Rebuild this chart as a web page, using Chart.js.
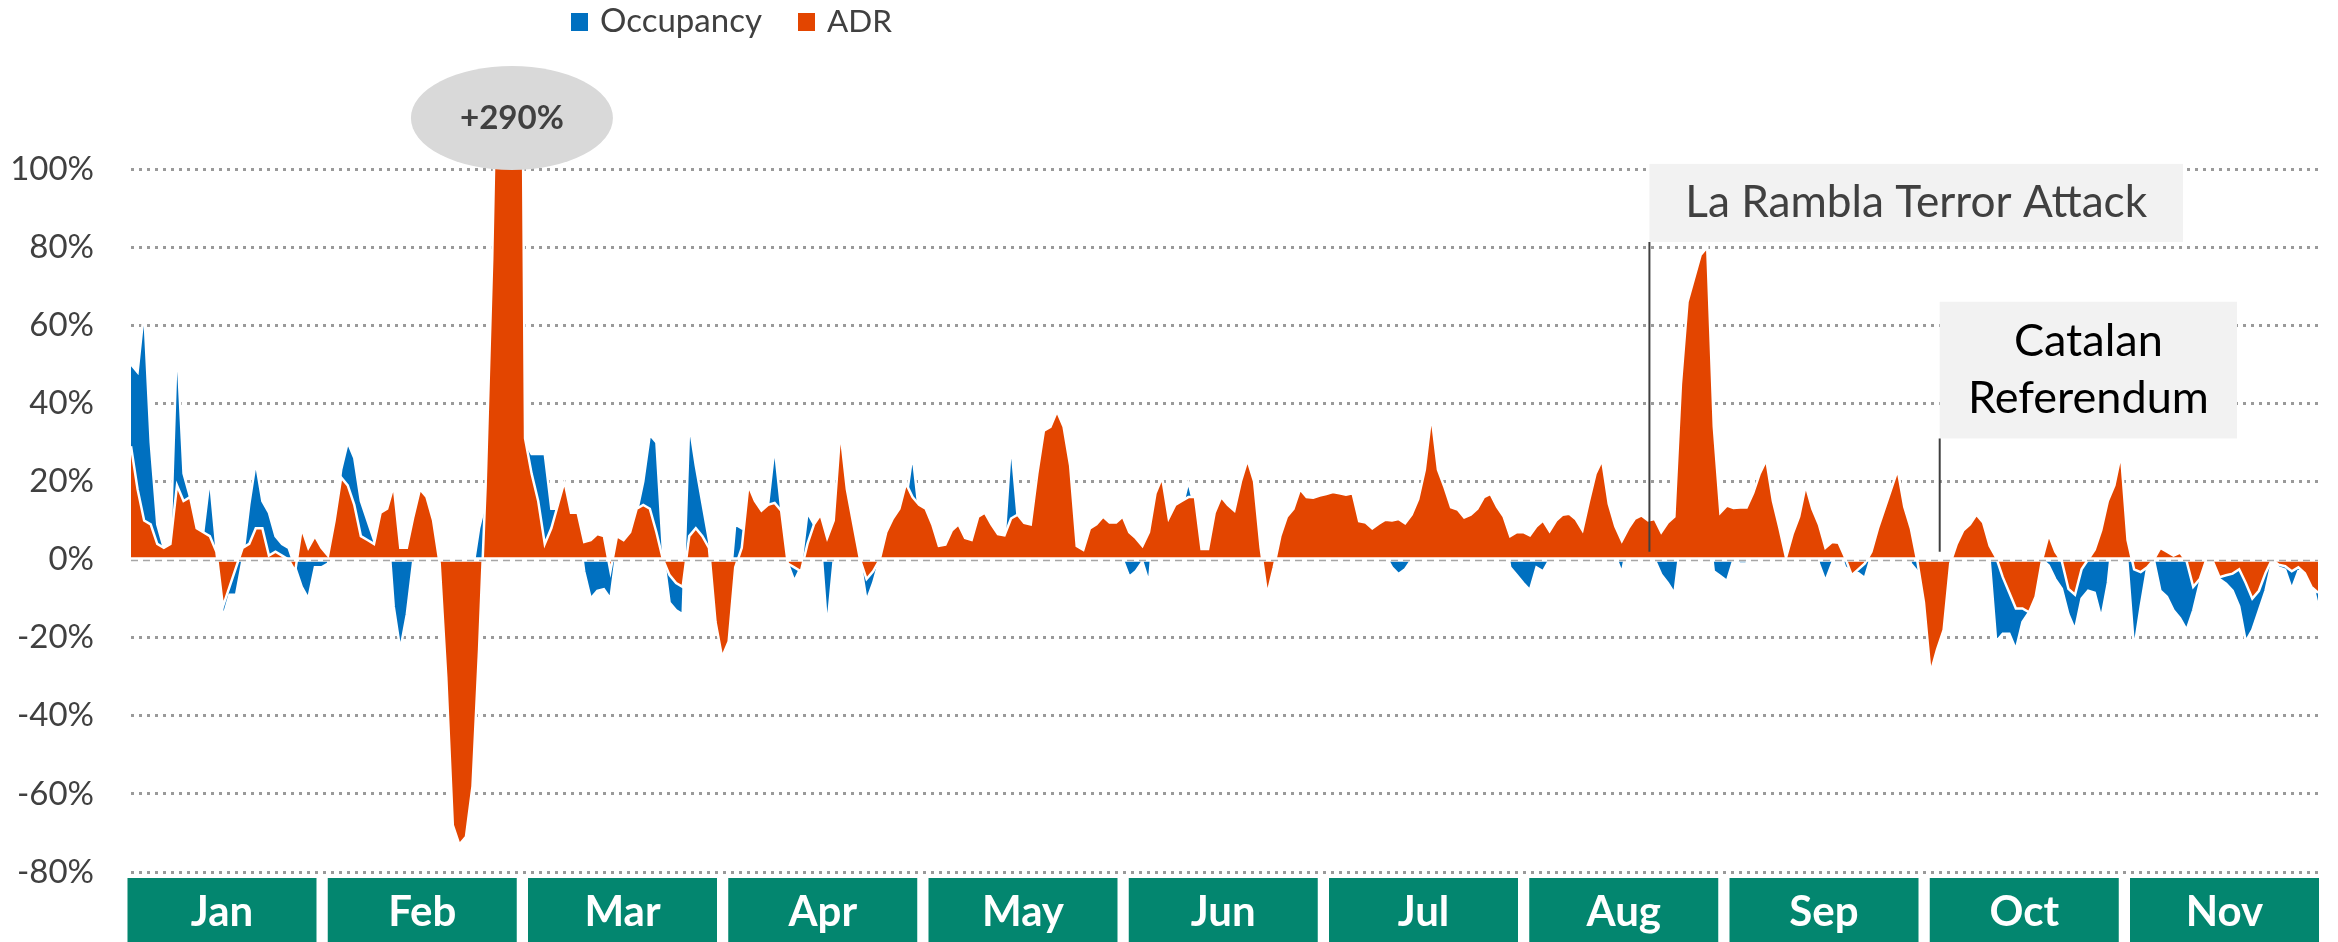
<!DOCTYPE html>
<html>
<head>
<meta charset="utf-8">
<script src="https://cdn.jsdelivr.net/npm/chart.js@4.4.1/dist/chart.umd.min.js"></script>
<style>
html,body{margin:0;padding:0;background:#fff;overflow:hidden}
canvas{display:block}
</style>
</head>
<body>
<canvas id="chart" width="2338" height="942"></canvas>
<script>
// ---- data (daily, Jan 1 .. Nov 30, % change year on year) ----
const months = ['Jan','Feb','Mar','Apr','May','Jun','Jul','Aug','Sep','Oct','Nov'];

const occupancy = [
  // Jan
  50,48,64,30,9,3,4,56,22,16,8,7,21,3,-15,-9,-9,0,14,25,15,12,6,4,3,-2,-7,-10,-2,-2,-1,
  // Feb
  10,23,30,26,15,10,5,10,11,-12,-23,-14,0,17,15,11,0,-3,-5,-6,-5,-3,8,15,25,30,30,28,
  // Mar
  25,30,27,27,27,13,13,18,10,10,-3,-10,-8,-7.6,-10,3,4,6,12,20,32,30,2,-11,-13,-14,35,24,14.5,5,-8,
  // Apr
  -10,-10,9,8,17,13,11,14,29,13,-1,-5.5,-2,12,9,5,-17.5,0,10,8,5,0,-10.6,-6,0,5,8,10,15,27,
  // May
  12,10,7,2,2,5,6,4,4,9,10,7,5,5,30,11,8,8,20,28,30,32,30,20,-1.5,1,6,7,9,8,8,
  // Jun
  0,-4.4,-3,-0.5,-6,14,18,9,12,13,20,13,2,2,10,13,12,10,17,22,19,5,-4,-1,5,9,11,15,14,14,
  // Jul
  15,15,15,15,15,15,8,8,7,8,1,-2,-3.7,-2.5,0,13,20,30,20,15,11,10,9,10,11,14,14,12,9,-2,-4,
  // Aug
  -6,-7.8,-2,-3,0,-0.5,9,10,-1.5,5,12,18,20,12,1,-3.4,5,9,-1,8,0,-3.8,-6,-8.7,5,10,12,15,12,-3,-4.2,
  // Sep
  -5.5,0,-1,-1,10,15,20,10,5,-0.5,4,8,15,10,-1,-5.5,-1,3,-2,-3,-3.5,-4.7,1,6,10,15,18,10,-1,-3,
  // Oct
  -8,-15,-15,-10,-1,3,6,7,10,8,0,-21,-19,-19,-23,-16,-13.5,-9,0,-1.5,-5,-7.5,-14,-18,-10,-8,-8.5,-15,-6,10,15,
  // Nov
  -1,-23,-12,-2,0,-8,-9.5,-13,-15,-18,-13,-6,0,-0.5,-5,-6.2,-8,-12,-21,-18,-13,-8,-0.5,-2,-2.6,-7.5,-3,-3,-5,-12
];

const adr = [
  // Jan
  29,18,10,9,4,3,4,19,15,16,8,7,6,2,-12,-7,-2,3,4,8,8,1,2,1,0,-3,8,3,6,3,1,
  // Feb
  10,21,19,14,6,5,4,12,13,19,3,3,11,18,16,10,-1,-30,-68,-73,-71,-58,-23,19,77,160,250,290,
  // Mar
  270,31,22,15,4,8,14,20,12,12,4.5,5,6.5,6,-3,6,5,7,13,14,13,7,0,-4,-6,-7,6,8,6,3,-16,
  // Apr
  -25,-21,-2,3,19,15,12.5,14,14.5,12.5,-1,-2,-3,4,9,11.5,5.5,10,33,18,9,0,-5,-3,0,7,10.5,13,19.5,16,
  // May
  14,13,9,3.5,3.8,7.5,9,5.5,5,11,12,9,6.5,6.2,10.5,11.5,9.4,9,22,33,34,38,34,24,3.5,2.5,8,9,11,9.5,9.5,
  // Jun
  11,7,5.5,3.5,7,17,21,10.6,14,15,16,16,2.7,2.7,12,16,14,12.5,20,25.5,20,3,-9,-2,6,11,13,18,16,15.8,
  // Jul
  16.4,16.8,17.3,17,16.6,17,9.8,9.5,8,9.2,10.2,10,10.4,9.3,11.5,15.5,23,37,23,18.5,13.4,12.8,10.8,11.5,13,16,16.8,13.5,11,6,7,
  // Aug
  7,6.2,8.5,10,7.3,10,11.5,11.7,10.3,7.5,15,22,25.5,14.3,8.5,4.8,8,10.5,11.3,10,10.4,7,9.5,11,45,66,72,78,80,34,12,
  // Sep
  13.8,13.2,13.3,13.3,17,22,25.5,15,8,0.5,6.5,11,19,13,9,3,4.5,4.3,0.5,-4,-2.5,-1,2,8,13,18,23,13.5,8,-0.5,
  // Oct
  -11,-29,-23,-18,-1,4,7.5,9,11.5,9.5,3.5,0.5,-4.5,-8.5,-12.5,-12.5,-13.5,-9.5,0,6.4,2,-0.5,-7.5,-9,-2.5,0,2.5,7.5,15,19,27,
  // Nov
  5,-2.5,-3.2,-2,0,3,2,1,1.8,-0.5,-7,-5,0,-0.5,-4.5,-4,-3.6,-2.5,-6,-10,-8,-3.5,0,-1.3,-1.7,-3,-2,-3.5,-7,-8.5
];

const yTicks = [100, 80, 60, 40, 20, 0, -20, -40, -60, -80];
const days = adr.map((_, i) => i);

// event annotations (day index where the marker line sits)
const events = [
  { day: 231.2, lines: ['La Rambla Terror Attack'], top: 101.3, bottom: 81.3, right: 2183, color: '#404040', fitText: 'La Rambla Terror Attack', fitWidth: 462 },
  { day: 275.4, lines: ['Catalan', 'Referendum'], top: 66, bottom: 31, right: 2237, color: '#000000', fitText: 'Referendum', fitWidth: 241 }
];

// ---- styling ----
const FONT = 'Lato, "Open Sans", Arial, sans-serif';
const BLUE = '#0070C0', ORANGE = '#E34500', TEAL = '#03866F', INK = '#404040';

function fitSize(ctx, text, weight, width) {
  ctx.font = `${weight} 100px ${FONT}`;
  return 100 * width / ctx.measureText(text).width;
}

const decor = {
  id: 'decor',
  beforeDraw(chart) {
    const { ctx } = chart;
    const ms = chart.scales.m;
    ctx.save();
    ctx.font = `bold 42px ${FONT}`;
    ctx.textAlign = 'center';
    ctx.textBaseline = 'middle';
    months.forEach((name, i) => {
      const cx = ms.getPixelForValue(i);
      ctx.fillStyle = TEAL;
      ctx.fillRect(cx - 94.5, 878, 189, 64);
      ctx.fillStyle = '#ffffff';
      ctx.fillText(name, cx, 912);
    });
    ctx.restore();
  },
  afterDatasetsDraw(chart) {
    const { ctx, chartArea } = chart;
    const y0 = chart.scales.y.getPixelForValue(0);
    ctx.save();
    ctx.strokeStyle = '#ffffff';
    ctx.lineWidth = 4.5;
    ctx.beginPath(); ctx.moveTo(chartArea.left, y0); ctx.lineTo(chartArea.right, y0); ctx.stroke();
    ctx.strokeStyle = '#A6A6A6';
    ctx.lineWidth = 1.5;
    ctx.setLineDash([7, 5]);
    ctx.beginPath(); ctx.moveTo(chartArea.left, y0 + 1); ctx.lineTo(chartArea.right, y0 + 1); ctx.stroke();
    ctx.restore();
  },
  afterDraw(chart) {
    const { ctx } = chart;
    const xs = chart.scales.x, ys = chart.scales.y;
    ctx.save();

    // legend (Occupancy, ADR)
    const ds = chart.data.datasets;
    const legendX = [571, 798];
    const legendW = [162, 65];
    ds.forEach((d, i) => {
      ctx.fillStyle = d.backgroundColor;
      ctx.fillRect(legendX[i], 13, 17, 18);
      const s = fitSize(ctx, d.label, 'normal', legendW[i]);
      ctx.font = `${s}px ${FONT}`;
      ctx.fillStyle = INK;
      ctx.textAlign = 'left';
      ctx.textBaseline = 'alphabetic';
      ctx.fillText(d.label, legendX[i] + 29, 32);
    });

    // peak callout ellipse
    const maxV = Math.max(...adr);
    const maxI = adr.indexOf(maxV);
    const ex = xs.getPixelForValue(maxI);
    ctx.fillStyle = '#D9D9D9';
    ctx.beginPath();
    ctx.ellipse(ex, 118, 101, 52, 0, 0, Math.PI * 2);
    ctx.fill();
    const label = '+' + maxV + '%';
    const ls = fitSize(ctx, label, 'bold', 104);
    ctx.font = `bold ${ls}px ${FONT}`;
    ctx.fillStyle = INK;
    ctx.textAlign = 'center';
    ctx.textBaseline = 'alphabetic';
    ctx.fillText(label, ex, 129);

    // event annotations
    events.forEach(ev => {
      const lx = xs.left + (xs.right - xs.left) * ev.day / (days.length - 1);
      const top = ys.getPixelForValue(ev.top);
      const bottom = ys.getPixelForValue(ev.bottom);
      ctx.fillStyle = '#F2F2F2';
      ctx.fillRect(lx, top, ev.right - lx, bottom - top);
      ctx.strokeStyle = '#404040';
      ctx.lineWidth = 2;
      ctx.beginPath();
      ctx.moveTo(lx, bottom);
      ctx.lineTo(lx, ys.getPixelForValue(2));
      ctx.stroke();
      const fs = fitSize(ctx, ev.fitText, 'normal', ev.fitWidth);
      ctx.font = `${fs}px ${FONT}`;
      ctx.fillStyle = ev.color;
      ctx.textAlign = 'center';
      ctx.textBaseline = 'middle';
      const cx = (lx + ev.right) / 2;
      const cy = (top + bottom) / 2;
      const lh = fs * 1.26;
      ev.lines.forEach((t, k) => {
        ctx.fillText(t, cx, cy + (k - (ev.lines.length - 1) / 2) * lh);
      });
    });
    ctx.restore();
  }
};

new Chart(document.getElementById('chart'), {
  type: 'line',
  data: {
    labels: days,
    datasets: [
      { label: 'Occupancy', data: occupancy, backgroundColor: BLUE, borderColor: '#ffffff', borderWidth: 2.5,
        fill: 'origin', pointRadius: 0, tension: 0, order: 2, clip: 0 },
      { label: 'ADR', data: adr, backgroundColor: ORANGE, borderColor: '#ffffff', borderWidth: 2.5,
        fill: 'origin', pointRadius: 0, tension: 0, order: 1, clip: 0 }
    ]
  },
  options: {
    responsive: false,
    devicePixelRatio: 1,
    animation: false,
    events: [],
    layout: { padding: { top: 169, right: 20, left: 0, bottom: 0 } },
    plugins: { legend: { display: false }, tooltip: { enabled: false } },
    scales: {
      x: { type: 'category', display: false, offset: false },
      m: {
        type: 'linear', position: 'bottom', min: -0.4544, max: 10.4669,
        grid: { display: false }, border: { display: false }, ticks: { display: false },
        afterBuildTicks: s => { s.ticks = months.map((_, i) => ({ value: i })); },
        afterFit: s => { s.height = 70; }
      },
      y: {
        min: -80, max: 100,
        afterBuildTicks: s => { s.ticks = yTicks.map(v => ({ value: v })); },
        ticks: { callback: v => v + '%', color: INK, font: { family: FONT, size: 33 }, padding: 37 },
        grid: {
          drawTicks: false,
          color: c => (c.tick && c.tick.value === 0) ? 'rgba(0,0,0,0)' : '#9A9A9A',
          lineWidth: 3
        },
        border: { display: false, dash: [3, 5] },
        afterFit: s => { s.width = 131; }
      }
    }
  },
  plugins: [decor]
});
</script>
</body>
</html>
